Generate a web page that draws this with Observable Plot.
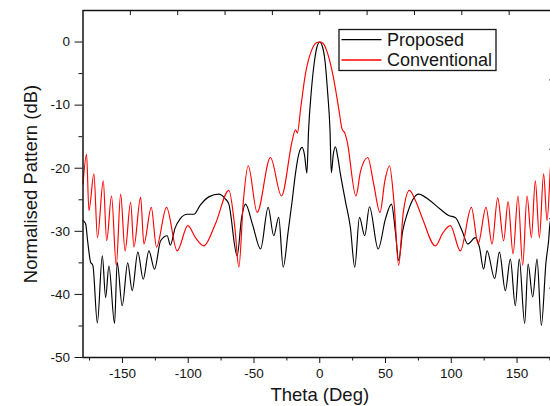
<!DOCTYPE html>
<html><head><meta charset="utf-8">
<script src="https://cdn.jsdelivr.net/npm/d3@7"></script>
<script src="https://cdn.jsdelivr.net/npm/@observablehq/plot@0.6"></script>
<style>
html,body{margin:0;padding:0;background:#fff;overflow:hidden;width:550px;height:406px}
#chart{position:relative;width:550px;height:406px;overflow:hidden}
#chart svg{max-width:none !important}
</style></head><body><div id="chart"></div>
<script>
const seriesNames = ["Proposed", "Conventional"];
const seriesColors = ["#000000", "#ff0000"];

const propTheta = [-180,-178,-176.5,-174.2,-172.5,-169.1,-165.3,-162.8,-160.3,-156,-154,-150.2,-146,-142.6,-138.3,-134.2,-129.9,-125.6,-121,-116,-113.6,-110,-106,-100.8,-95.7,-90.7,-84,-76.7,-72,-69.1,-62.8,-59.5,-56.5,-51,-45,-39.2,-35,-31.2,-27.8,-24,-21,-18.5,-16,-13.4,-11.5,-9.8,-8.5,-6.5,-4,-2,0,2,4,6,7.8,8.8,10.3,11.9,13.5,15.7,19.5,23.3,26.6,30.2,34.2,37.8,44.4,50,54.5,57.5,60,63,66.4,75.2,83,91.7,98,103,108.2,112.5,118.3,121.4,124.6,127.2,133,136.6,141.1,144.9,148.7,151.7,155.8,158.4,161.9,165.2,168.5,172,174,175.3,178,180];
const propDb = [-28.3,-28.8,-31.5,-34.9,-35.4,-44.5,-33.9,-40.5,-35.5,-44.6,-34.9,-41.8,-35,-39.4,-33.3,-37.6,-33.1,-36,-31.5,-30.7,-32.2,-29.5,-28,-27.3,-27.3,-25.8,-24.5,-24.1,-24.8,-25.7,-33.9,-28,-25.7,-29,-32.8,-26.2,-30.7,-27.8,-35.7,-30,-25.2,-20.9,-17.8,-16.7,-18,-20.8,-14,-8,-3,-0.7,0,-0.7,-3,-8,-14,-20.7,-17.8,-16.6,-18,-20.9,-25.2,-29.4,-35.7,-27.8,-30.7,-26.1,-32.8,-28,-25.7,-30,-34.6,-30,-27.3,-24.1,-25,-26.5,-27.5,-27.8,-29.9,-32,-31,-32.5,-36,-33.1,-37.5,-33.3,-39.4,-34.4,-41.8,-34.4,-44.6,-35.2,-40.4,-34.4,-44.9,-34.9,-31.5,-28.3,-28.3,-28];

const convTheta = [-180,-177.3,-175.5,-171.7,-169,-164.6,-162,-158.3,-154.7,-151.4,-148,-143.8,-141.3,-136.2,-133.7,-128.1,-124.1,-116.5,-108.4,-100.3,-94.5,-88.1,-79.3,-69.1,-64.5,-61.5,-58,-54.4,-47.6,-37.5,-29.1,-21,-18.5,-17,-14.5,-11,-6,-2.5,0,2.5,5,10,14.4,17,19,20.8,27.5,31,36.5,41,45.8,49.5,53,56.5,60,63.5,68.2,72.5,77.8,87.9,93.5,99.3,106.9,115.3,120.4,126.4,131,135.3,139.8,143.2,147,150.7,154.3,157.6,160.9,163.9,167,170.2,172.8,176.5,180];
const convDb = [-22.5,-17.8,-26.7,-20.9,-31,-22,-31.5,-24.4,-35.4,-24.1,-33.1,-25.4,-32.5,-24.6,-32,-26.2,-32.5,-26.2,-33.1,-29.1,-31,-32.3,-28.8,-23.5,-29.5,-35.7,-25,-19.6,-27,-18.3,-24.4,-15.7,-13.9,-14.4,-10.5,-5.2,-1.2,-0.1,0,-0.2,-1.2,-5.2,-10.5,-13.8,-14.4,-15.7,-24.4,-20.5,-18.3,-22.5,-27,-22,-19.6,-25.5,-35.4,-27,-23.5,-25,-27.8,-32.3,-30.3,-29.1,-33.1,-26.2,-32,-26.2,-32,-24.7,-31.5,-25.3,-33.6,-24.4,-35.4,-24.4,-31,-22,-31,-20.9,-28.3,-17.3,-22.5];

const xMajorTicks = [-150, -100, -50, 0, 50, 100, 150];
const xMinorTicks = [-175, -125, -75, -25, 25, 75, 125, 175];
const yMajorTicks = [0, -10, -20, -30, -40, -50];
const yMinorTicks = [-5, -15, -25, -35, -45];
const topTicks = [-144, -108, -72, -36, 0, 36, 72, 108, 144];
const rightTicks = [-6, -17, -28, -39];
const xLabel = "Theta (Deg)";
const yLabel = "Normalised Pattern (dB)";

const prop = propTheta.map((t, i) => ({theta: t, db: propDb[i]}));
const conv = convTheta.map((t, i) => ({theta: t, db: convDb[i]}));

const font = "'Liberation Sans', Arial, sans-serif";
const ink = "#151515";

const plot = Plot.plot({
  width: 600, height: 406,
  marginLeft: 82.5, marginRight: 44, marginTop: 10, marginBottom: 49,
  x: {domain: [-180, 180]},
  y: {domain: [-50, 5]},
  style: {fontFamily: font, color: ink, background: "#fff", overflow: "visible"},
  marks: [
    Plot.line(prop, {x: "theta", y: "db", stroke: seriesColors[0], strokeWidth: 1.15, curve: "monotone-x"}),
    Plot.line(conv, {x: "theta", y: "db", stroke: seriesColors[1], strokeWidth: 1.15, curve: "monotone-x"}),
    Plot.frame({stroke: ink, strokeWidth: 1.5}),
    Plot.axisX(xMajorTicks, {anchor: "bottom", tickSize: 6, tickPadding: 5, fontSize: 13.5, tickFormat: d => String(d), label: null, stroke: ink, style: {letterSpacing: "0.3px"}}),
    Plot.axisX(xMinorTicks, {anchor: "bottom", tickSize: 3.5, tickFormat: () => "", label: null, stroke: ink}),
    Plot.axisY(yMajorTicks, {anchor: "left", tickSize: 8, tickPadding: 5, fontSize: 13.5, tickFormat: d => String(d), label: null, stroke: ink}),
    Plot.axisY(yMinorTicks, {anchor: "left", tickSize: 4, tickFormat: () => "", label: null, stroke: ink}),
    Plot.ruleX(topTicks, {x: d => d, y1: 5, y2: 4.2, stroke: ink}),
    Plot.ruleY(rightTicks, {y: d => d, x1: 180, x2: 174.8, stroke: ink}),
    Plot.text([xLabel], {frameAnchor: "bottom", dy: 38, fontSize: 18.5, fill: ink, text: d => d, textAnchor: "middle", lineAnchor: "middle"}),
    Plot.text([yLabel], {frameAnchor: "left", dx: -52, rotate: -90, fontSize: 18.5, fill: ink, text: d => d, textAnchor: "middle", lineAnchor: "middle"})
  ]
});
plot.style.maxWidth = "none";
document.getElementById("chart").appendChild(plot);

// legend
const svg = d3.select(plot);
const lg = svg.append("g").attr("font-family", font).attr("font-size", 18).attr("fill", ink).attr("text-anchor", "start");
lg.append("rect").attr("x", 339).attr("y", 29.5).attr("width", 157).attr("height", 41)
  .attr("fill", "#fff").attr("stroke", ink).attr("stroke-width", 1.3);
seriesNames.forEach((name, i) => {
  const yy = 39.7 + i * 20.3;
  lg.append("line").attr("x1", 341.5).attr("x2", 381.5).attr("y1", yy).attr("y2", yy)
    .attr("stroke", seriesColors[i]).attr("stroke-width", 1.3);
  lg.append("text").attr("x", 387).attr("y", yy + 6.3).attr("text-anchor", "start").text(name);
});
</script></body></html>
